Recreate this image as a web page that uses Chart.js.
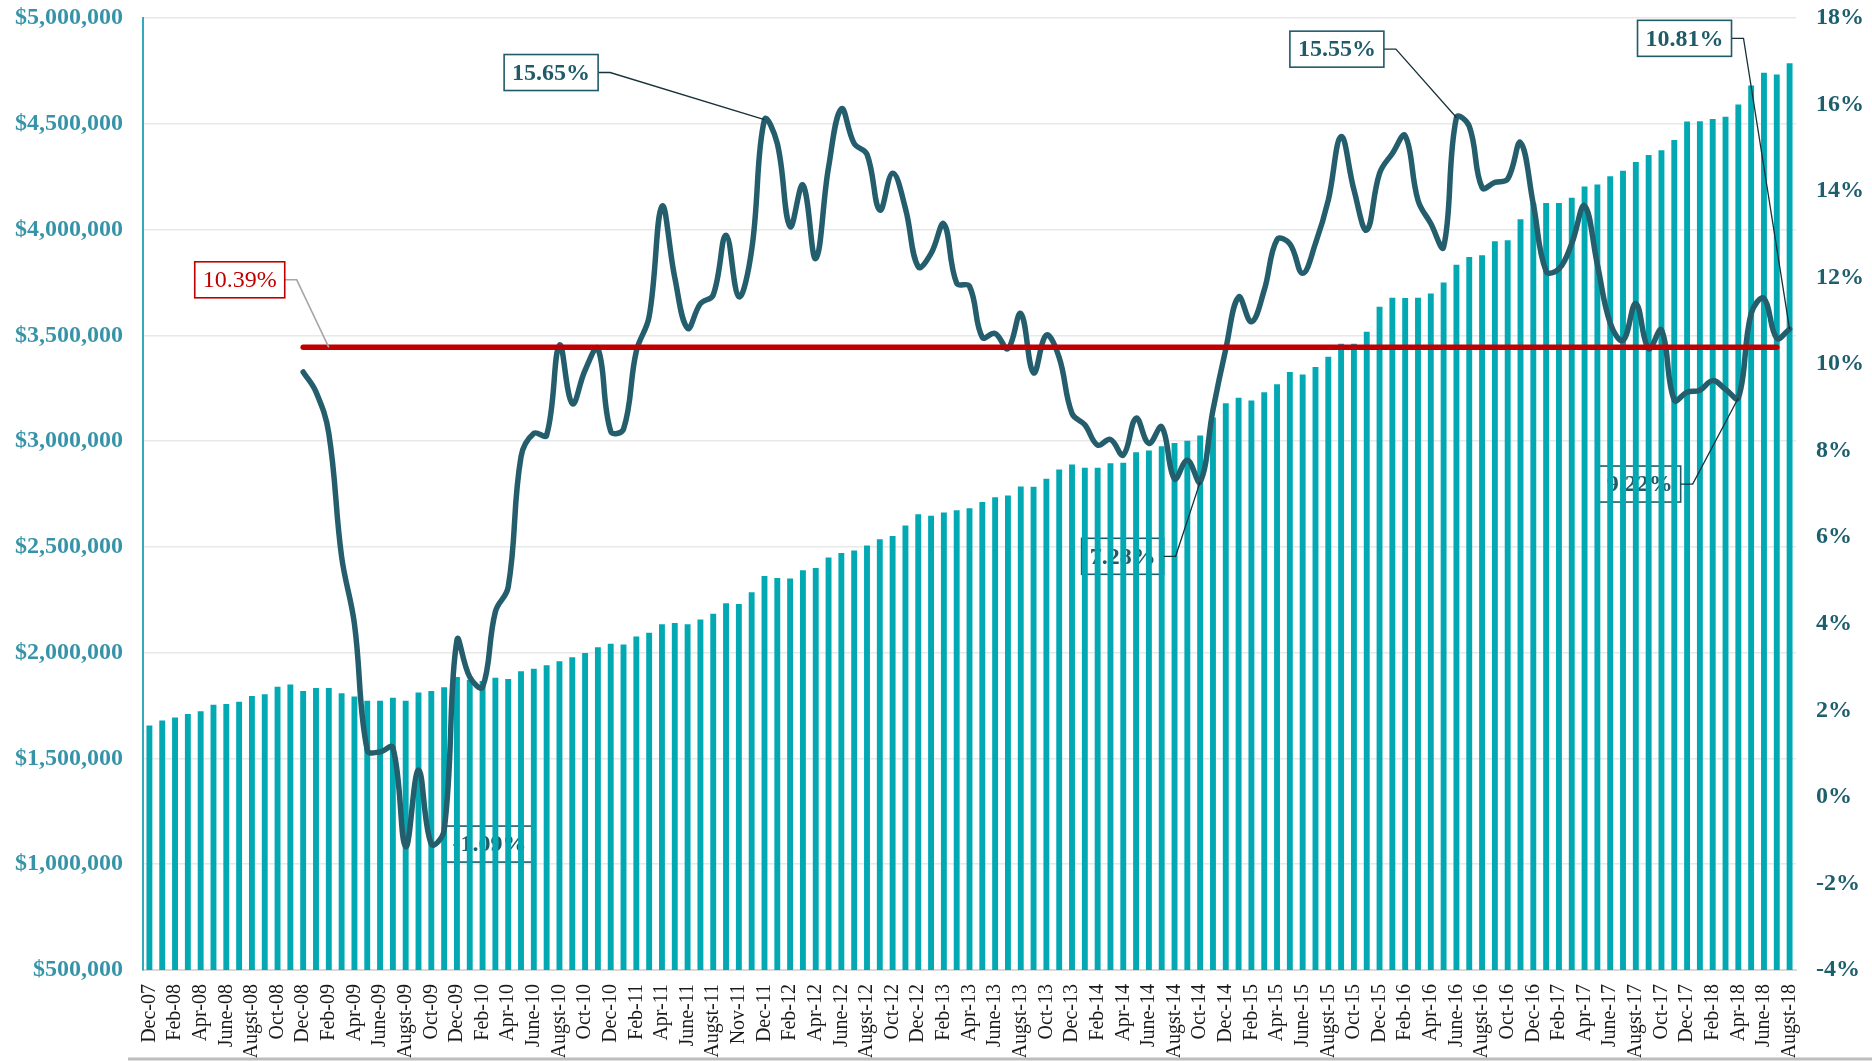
<!DOCTYPE html>
<html>
<head>
<meta charset="utf-8">
<script src="https://cdn.jsdelivr.net/npm/chart.js@4.4.1/dist/chart.umd.min.js"></script>
<style>
  html, body { margin: 0; padding: 0; background: #fff; }
  #wrap { width: 1872px; height: 1061px; position: relative; }
</style>
</head>
<body>
<div id="wrap"><canvas id="chart" width="1872" height="1061"></canvas></div>
<script>
// month categories (only every other one is shown on the axis)
const months = [
  'Dec-07',
  'Jan-08','Feb-08','Mar-08','Apr-08','May-08','June-08','July-08','Augst-08','Sep-08','Oct-08','Nov-08','Dec-08',
  'Jan-09','Feb-09','Mar-09','Apr-09','May-09','June-09','July-09','Augst-09','Sep-09','Oct-09','Nov-09','Dec-09',
  'Jan-10','Feb-10','Mar-10','Apr-10','May-10','June-10','July-10','Augst-10','Sep-10','Oct-10','Nov-10','Dec-10',
  'Jan-11','Feb-11','Mar-11','Apr-11','May-11','June-11','July-11','Augst-11','Sep-11','Nov-11','Nov-11','Dec-11',
  'Jan-12','Feb-12','Mar-12','Apr-12','May-12','June-12','July-12','Augst-12','Sep-12','Oct-12','Nov-12','Dec-12',
  'Jan-13','Feb-13','Mar-13','Apr-13','May-13','June-13','July-13','Augst-13','Sep-13','Oct-13','Nov-13','Dec-13',
  'Jan-14','Feb-14','Mar-14','Apr-14','May-14','June-14','July-14','Augst-14','Sep-14','Oct-14','Nov-14','Dec-14',
  'Jan-15','Feb-15','Mar-15','Apr-15','May-15','June-15','July-15','Augst-15','Sep-15','Oct-15','Nov-15','Dec-15',
  'Jan-16','Feb-16','Mar-16','Apr-16','May-16','June-16','July-16','Augst-16','Sep-16','Oct-16','Nov-16','Dec-16',
  'Jan-17','Feb-17','Mar-17','Apr-17','May-17','June-17','July-17','Augst-17','Sep-17','Oct-17','Nov-17','Dec-17',
  'Jan-18','Feb-18','Mar-18','Apr-18','May-18','June-18','July-18','Augst-18'
];

// monthly totals ($), left axis
const totals = [
  1656000,
  1679000,1694000,1710000,1723000,1754000,1757000,1768000,1795000,1803000,1839000,1850000,1819000,
  1833000,1833000,1808000,1793000,1773000,1773000,1787000,1773000,1812000,1819000,1836000,1885000,
  1872000,1866000,1882000,1876000,1912000,1924000,1940000,1959000,1978000,1998000,2026000,2042000,
  2039000,2077000,2094000,2134000,2140000,2134000,2157000,2184000,2233000,2230000,2285000,2362000,
  2353000,2351000,2390000,2400000,2450000,2471000,2483000,2507000,2536000,2551000,2601000,2654000,
  2647000,2662000,2673000,2683000,2712000,2735000,2743000,2786000,2784000,2822000,2866000,2890000,
  2874000,2874000,2895000,2898000,2947000,2956000,2976000,2991000,3002000,3027000,3112000,3179000,
  3205000,3192000,3231000,3269000,3327000,3315000,3350000,3399000,3460000,3460000,3517000,3635000,
  3678000,3676000,3678000,3698000,3750000,3834000,3870000,3879000,3945000,3950000,4049000,4125000,
  4125000,4125000,4150000,4204000,4213000,4252000,4278000,4319000,4353000,4375000,4423000,4511000,
  4512000,4522000,4533000,4591000,4681000,4741000,4733000,4786000
];

// year-over-year growth (%), right axis; starts Dec-08
const growth = [
  null,
  null,null,null,null,null,null,null,null,null,null,null,9.82,
  9.36,8.40,5.55,4.00,1.08,1.04,1.14,-1.15,0.62,-1.09,-0.77,3.62,
  2.77,2.54,4.28,4.85,7.86,8.40,8.36,10.44,9.09,9.86,10.36,8.45,
  8.50,10.30,11.10,13.65,12.00,10.83,11.40,11.60,12.98,11.56,12.64,15.65,
  15.10,13.18,14.14,12.44,14.55,15.90,15.10,14.85,13.56,14.41,13.60,12.25,
  12.56,13.24,11.87,11.80,10.62,10.71,10.36,11.17,9.80,10.67,10.15,8.86,
  8.60,8.13,8.26,7.90,8.75,8.17,8.55,7.35,7.78,7.28,8.94,10.35,
  11.55,10.98,11.71,12.88,12.78,12.10,12.79,13.79,15.26,14.03,13.10,14.41,
  14.87,15.28,13.79,13.25,12.71,15.70,15.50,14.08,14.20,14.28,15.12,13.70,
  12.15,12.20,12.79,13.66,12.30,10.95,10.55,11.40,10.36,10.79,9.17,9.35,
  9.40,9.62,9.42,9.22,11.17,11.52,10.60,10.81
];

// average growth line
const avgGrowth = 10.39;
const avgFrom = 12;
const avgTo = 127;

const leftTicks = { min: 500000, max: 5000000, step: 500000 };
const rightTicks = { min: -4, max: 18, step: 2 };

// callouts: text, box centre (category index, %), point index it points to
const callouts = [
  { text: '15.65%', at: [31.35, 16.74], idx: 48, under: false },
  { text: '10.39%', at: [7.05, 11.95], idx: 14, avg: true, under: false },
  { text: '-1.09%', at: [26.55, -1.09], idx: null, under: true },
  { text: '7.28%', at: [75.95, 5.56], idx: 82, under: true },
  { text: '9.22%', at: [116.3, 7.23], idx: 124, under: true },
  { text: '15.55%', at: [92.67, 17.28], idx: 102, under: false },
  { text: '10.81%', at: [119.8, 17.53], idx: 128, under: false }
];

const avgLine = months.map((m, i) => (i >= avgFrom && i <= avgTo ? avgGrowth : null));

const TEAL_DARK = '#1F5B69';
const SERIF = '"Liberation Serif", "DejaVu Serif", serif';

function drawCallouts(chart, under) {
  const ctx = chart.ctx;
  const xs = chart.scales.x, ys = chart.scales.y1;
  ctx.save();
  callouts.filter(c => c.under === under).forEach(c => {
    const red = !!c.avg;
    ctx.font = (red ? '' : 'bold ') + '24px ' + SERIF;
    const tw = ctx.measureText(c.text).width;
    const w = tw + 16, h = 36;
    const cx = xs.getPixelForValue(c.at[0]);
    const cy = ys.getPixelForValue(c.at[1]);
    const bx = cx - w / 2, by = cy - h / 2;
    if (!under) {
      ctx.fillStyle = '#fff';
      ctx.fillRect(bx, by, w, h);
    }
    ctx.strokeStyle = red ? '#C00000' : TEAL_DARK;
    ctx.lineWidth = 1.6;
    ctx.strokeRect(bx, by, w, h);
    ctx.fillStyle = red ? '#C00000' : TEAL_DARK;
    ctx.textAlign = 'center';
    ctx.textBaseline = 'middle';
    ctx.fillText(c.text, cx, cy + 1);
  });
  ctx.restore();
}

function drawLeaders(chart) {
  const ctx = chart.ctx;
  const xs = chart.scales.x, ys = chart.scales.y1;
  ctx.save();
  callouts.forEach(c => {
    if (c.idx === null) return;
    const red = !!c.avg;
    ctx.font = (red ? '' : 'bold ') + '24px ' + SERIF;
    const w = ctx.measureText(c.text).width + 16;
    const cx = xs.getPixelForValue(c.at[0]);
    const cy = ys.getPixelForValue(c.at[1]);
    const val = red ? avgLine[c.idx] : growth[c.idx];
    const px = xs.getPixelForValue(c.idx);
    const py = ys.getPixelForValue(val);
    const sx = cx + w / 2;
    ctx.strokeStyle = red ? '#A6A6A6' : '#17323A';
    ctx.lineWidth = red ? 1.6 : 1.3;
    ctx.beginPath();
    ctx.moveTo(sx, cy);
    ctx.lineTo(sx + 12, cy);
    ctx.lineTo(px, py);
    ctx.stroke();
  });
  ctx.restore();
}

const calloutPlugin = {
  id: 'callouts',
  beforeDatasetsDraw(chart) { drawCallouts(chart, true); },
  afterDatasetsDraw(chart) { drawLeaders(chart); drawCallouts(chart, false); },
  afterDraw(chart) {
    const ctx = chart.ctx;
    ctx.save();
    ctx.strokeStyle = '#BDBDBD';
    ctx.lineWidth = 3;
    ctx.beginPath();
    ctx.moveTo(128, 1059);
    ctx.lineTo(1872, 1059);
    ctx.stroke();
    ctx.restore();
  }
};

new Chart(document.getElementById('chart'), {
  data: {
    labels: months,
    datasets: [
      {
        type: 'line',
        label: 'Average',
        data: avgLine,
        yAxisID: 'y1',
        borderColor: '#C00000',
        borderWidth: 5.5,
        borderCapStyle: 'round',
        pointRadius: 0,
        tension: 0,
        order: 0
      },
      {
        type: 'line',
        label: 'Growth',
        data: growth,
        yAxisID: 'y1',
        borderColor: '#245E6D',
        borderWidth: 5.5,
        borderCapStyle: 'round',
        borderJoinStyle: 'round',
        pointRadius: 0,
        tension: 0.4,
        order: 1
      },
      {
        type: 'bar',
        label: 'Total',
        data: totals,
        yAxisID: 'y',
        backgroundColor: '#02A9B3',
        barPercentage: 0.46,
        categoryPercentage: 1.0,
        order: 2
      }
    ]
  },
  options: {
    responsive: false,
    animation: false,
    layout: { padding: { top: 18, right: 0, bottom: 0, left: 0 } },
    plugins: { legend: { display: false }, tooltip: { enabled: false } },
    scales: {
      x: {
        offset: true,
        grid: { display: false },
        border: { display: true, color: '#D9D9D9', width: 2 },
        ticks: {
          autoSkip: false,
          minRotation: 90,
          maxRotation: 90,
          padding: 6,
          color: '#1A1A1A',
          font: { family: SERIF, size: 20 },
          callback: (v, i) => (i % 2 === 0 ? months[i] : '')
        },
        afterFit(scale) { scale.height = 91; scale.paddingLeft = 0; scale.paddingRight = 0; }
      },
      y: {
        position: 'left',
        min: leftTicks.min,
        max: leftTicks.max,
        grid: { color: '#E8E8E8', lineWidth: 1.5, drawTicks: false },
        border: { display: true, color: '#35AABB', width: 2 },
        ticks: {
          stepSize: leftTicks.step,
          padding: 20,
          color: '#3794A8',
          font: { family: SERIF, size: 24, weight: 'bold' },
          callback: v => '$' + v.toLocaleString('en-US')
        },
        afterFit(scale) { scale.width = 143; scale.paddingTop = 0; scale.paddingBottom = 0; }
      },
      y1: {
        position: 'right',
        min: rightTicks.min,
        max: rightTicks.max,
        grid: { display: false, drawTicks: false },
        border: { display: false },
        ticks: {
          stepSize: rightTicks.step,
          padding: 20,
          crossAlign: 'near',
          color: '#1E5F6E',
          font: { family: SERIF, size: 24, weight: 'bold' },
          callback: v => v + '%'
        },
        afterFit(scale) { scale.width = 76; scale.paddingTop = 0; scale.paddingBottom = 0; }
      }
    }
  },
  plugins: [calloutPlugin]
});
</script>
</body>
</html>
